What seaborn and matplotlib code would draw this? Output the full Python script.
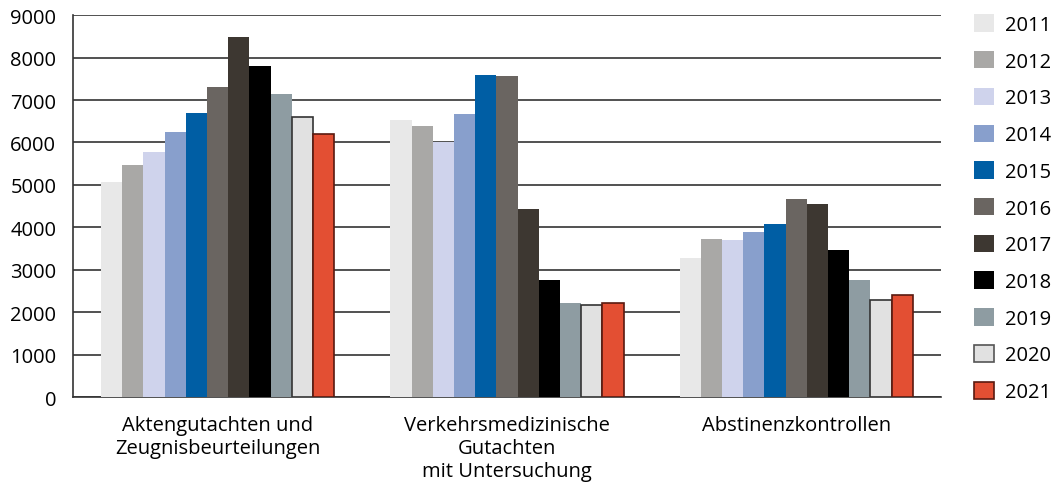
import matplotlib
matplotlib.use("Agg")
import matplotlib.pyplot as plt
import seaborn as sns
import pandas as pd
from matplotlib.patches import Patch

# Kategorien und Jahre
kategorien = ["Aktengutachten und\nZeugnisbeurteilungen",
              "Verkehrsmedizinische\nGutachten\nmit Untersuchung",
              "Abstinenzkontrollen"]
jahre = ["2011", "2012", "2013", "2014", "2015", "2016",
         "2017", "2018", "2019", "2020", "2021"]

# Werte je Kategorie
akten = [5060, 5460, 5770, 6240, 6690, 7300, 8480, 7800, 7140, 6600, 6190]
verkehr = [6520, 6380, 6000, 6680, 7600, 7560, 4420, 2750, 2210, 2160, 2210]
abstinenz = [3270, 3720, 3690, 3880, 4070, 4660, 4540, 3460, 2770, 2280, 2400]

farben = ["#e8e8e8", "#a9a8a6", "#cfd3ec", "#889fcc", "#005ea4", "#6a6561",
          "#3d3731", "#000000", "#8e9ca2", "#e1e1e1", "#e34f33"]

rows = []
for kat, werte in zip(kategorien, [akten, verkehr, abstinenz]):
    for j, w in zip(jahre, werte):
        rows.append({"kategorie": kat, "jahr": j, "wert": w})
df = pd.DataFrame(rows)

sns.set_style("white")
plt.rcParams['font.family'] = ['Open Sans', 'DejaVu Sans']
fs = 14.5

fig = plt.figure(figsize=(10.57, 4.89), dpi=100)
ax = fig.add_axes([0.0691, 0.186, 0.821, 0.781])

sns.barplot(data=df, x="kategorie", y="wert", hue="jahr", hue_order=jahre,
            order=kategorien, palette=farben, width=0.806, saturation=1,
            linewidth=0, legend=False, ax=ax, zorder=3)

# 2020 und 2021 mit Rand
for i, ec in [(9, "#333333"), (10, "#5a1a10")]:
    for bar in ax.containers[i]:
        bar.set_edgecolor(ec)
        bar.set_linewidth(1.2)

ax.set_xlim(-0.5, 2.5)
ax.set_ylim(0, 9000)
ax.set_yticks(range(0, 9001, 1000))
ax.yaxis.grid(True, color="#222222", linewidth=1.1, zorder=0)
ax.set_axisbelow(True)

ax.set_xlabel("")
ax.set_ylabel("")
ax.tick_params(axis="y", length=0, pad=12, labelsize=fs, labelcolor="black")
ax.tick_params(axis="x", which="major", length=0, pad=13, labelsize=fs,
               labelcolor="black")
ax.set_xticks([-0.5, 0.5, 1.5, 2.5], minor=True)
ax.tick_params(axis="x", which="minor", direction="in", length=7,
               color="#555555", width=1.2)

for s in ["top", "right"]:
    ax.spines[s].set_visible(False)
for s in ["left", "bottom"]:
    ax.spines[s].set_color("#333333")
    ax.spines[s].set_linewidth(1.2)

handles = []
for i, (j, c) in enumerate(zip(jahre, farben)):
    if i == 9:
        handles.append(Patch(facecolor=c, edgecolor="#555555", linewidth=1.2, label=j))
    elif i == 10:
        handles.append(Patch(facecolor=c, edgecolor="#5a1a10", linewidth=1.2, label=j))
    else:
        handles.append(Patch(facecolor=c, edgecolor="none", label=j))

leg = fig.legend(handles=handles, loc="upper left", bbox_to_anchor=(0.914, 0.985),
                 frameon=False, fontsize=fs, handlelength=0.98, handleheight=0.95,
                 handletextpad=0.55, labelspacing=0.8, borderaxespad=0)
for t in leg.get_texts():
    t.set_color("black")

plt.savefig("out.png", dpi=100)
